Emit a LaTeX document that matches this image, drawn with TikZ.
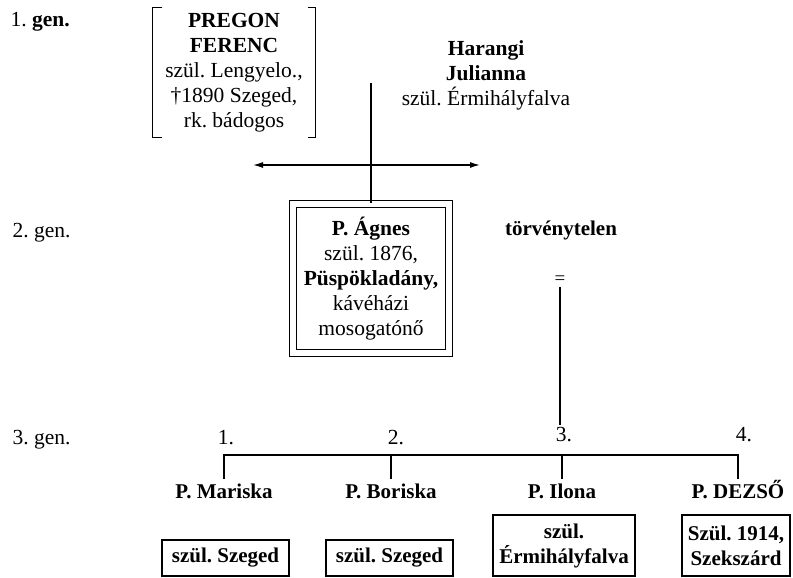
\documentclass[tikz,border=0pt]{standalone}
\usepackage{fontspec}
\setmainfont{Liberation Serif}
\usetikzlibrary{arrows.meta}
\frenchspacing

\begin{document}
\begin{tikzpicture}[x=1pt,y=-1pt,line width=1.3pt]
	\tikzset{every node/.style={font=\fontsize{21.5}{25}\selectfont,align=center,inner sep=2pt},
		nev/.style={font=\fontsize{21}{25}\selectfont\bfseries,text height=15pt,text depth=4pt,inner ysep=4pt},
		doboz/.style={draw,line width=1.4pt,font=\fontsize{21}{25}\selectfont\bfseries},
		nyil/.style={{Latex[length=10pt,width=6pt]}-{Latex[length=10pt,width=6pt]}}}
	\useasboundingbox (0,0) rectangle (793,578);
	\node[anchor=west] (G1) at (8,22) {1. \textbf{gen.}};
	\node[anchor=west] (G2) at (10,233) {2. gen.};
	\node[anchor=west] (G3) at (10,440) {3. gen.};
	\node[minimum width=162,minimum height=129] (PF) at (234,72.5)
		{\textbf{PREGON}\\\textbf{FERENC}\\szül. Lengyelo.,\\†1890 Szeged,\\rk. bádogos};
	\draw ([xshift=10pt]PF.north west) -- (PF.north west) -- (PF.south west) -- ++(10,0);
	\draw ([xshift=-8pt]PF.north east) -- (PF.north east) -- (PF.south east) -- ++(-8,0);
	\node (HJ) at (486,75) {\textbf{Harangi}\\\textbf{Julianna}\\szül. Érmihályfalva};
	\node[draw,double,double distance=6pt,line width=1.3pt,minimum width=156,minimum height=149] (AG) at (371,278.5)
		{\textbf{P. Ágnes}\\szül. 1876,\\\textbf{Püspökladány,}\\kávéházi\\mosogatónő};
	\coordinate (P) at (371,83);
	\coordinate (L) at (253,165);
	\coordinate (R) at (480,165);
	\draw (P) -- (AG.north);
	\draw[nyil] (L) -- (R);
	\node[font=\fontsize{21}{25}\selectfont\bfseries] (TV) at (561,230) {törvénytelen};
	\node[font=\fontsize{19}{20}\selectfont] (EQ) at (560,280) {=};
	\node (N1) at (226,438) {1.};
	\node (N2) at (396,438) {2.};
	\node (N3) at (564,435) {3.};
	\node (N4) at (744,435) {4.};
	\draw (EQ.south) -- (EQ.south |- N3.north);
	\node[nev] (K1) at (224,493) {P. Mariska};
	\node[nev] (K2) at (391,493) {P. Boriska};
	\node[nev] (K3) at (562,493) {P. Ilona};
	\node[nev] (K4) at (738,493) {P. DEZSŐ};
	\coordinate (S) at (0,455);
	\draw (K1.north) -- (K1.north |- S) -- (K4.north |- S) -- (K4.north);
	\foreach \k in {K2,K3} \draw (\k.north) -- (\k.north |- S);
	\node[doboz,minimum width=127,minimum height=36] (D1) at (225.5,558) {szül. Szeged};
	\node[doboz,minimum width=127,minimum height=36] (D2) at (389.5,558) {szül. Szeged};
	\node[doboz,minimum width=142,minimum height=61] (D3) at (564,545.5) {szül.\\Érmihályfalva};
	\node[doboz,minimum width=108,minimum height=61] (D4) at (736,545.5) {Szül. 1914,\\Szekszárd};
\end{tikzpicture}
\end{document}
